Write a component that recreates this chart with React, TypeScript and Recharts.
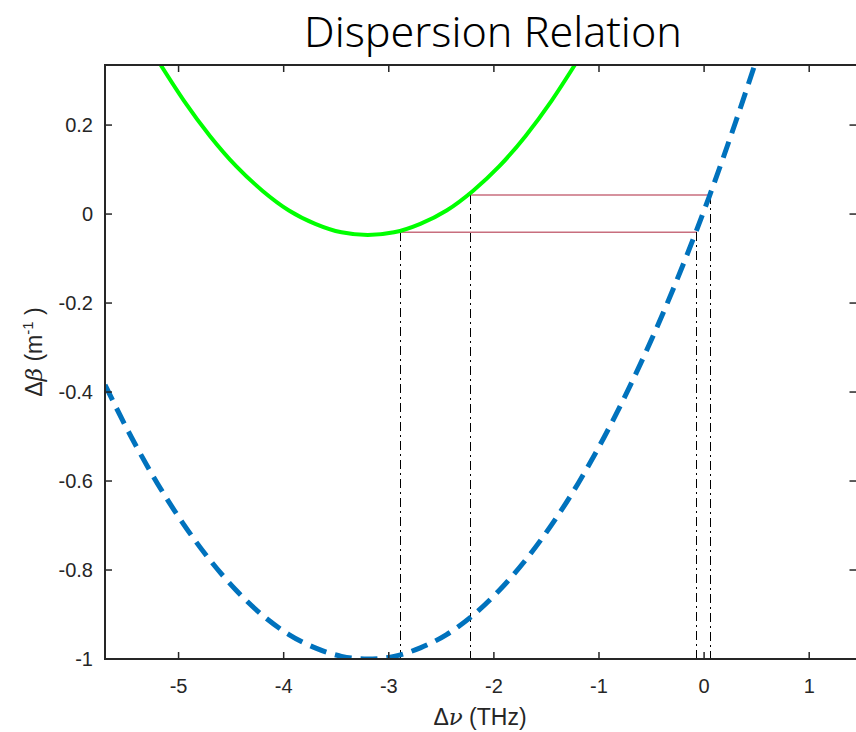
import React from 'react';
import { LineChart, Line, XAxis, YAxis, ReferenceLine } from 'recharts';

// frequency offset (THz) and propagation-constant mismatch (1/m)
const blueX = [-5.7, -5.45, -5.2, -4.95, -4.7, -4.45, -4.2, -3.95, -3.7, -3.45, -3.2, -2.95, -2.7, -2.45, -2.2, -1.95, -1.7, -1.45, -1.2, -0.95, -0.7, -0.45, -0.2, 0.05, 0.3, 0.48];
const blueY = [-0.384, -0.501, -0.606, -0.698, -0.778, -0.846, -0.902, -0.945, -0.975, -0.994, -1.0, -0.994, -0.975, -0.945, -0.902, -0.846, -0.778, -0.698, -0.606, -0.501, -0.384, -0.255, -0.114, 0.04, 0.207, 0.334];

const greenX = [-5.17, -4.95, -4.7, -4.45, -4.2, -3.95, -3.7, -3.45, -3.2, -2.95, -2.7, -2.45, -2.2, -1.95, -1.7, -1.45, -1.23];
const greenY = [0.335, 0.255, 0.175, 0.107, 0.052, 0.008, -0.022, -0.041, -0.047, -0.041, -0.022, 0.008, 0.052, 0.107, 0.175, 0.255, 0.335];

// phase-matching levels: [y, x on green curve, x on blue curve]
const matchLevels = [
  [0.043, -2.218, 0.059],
  [-0.041, -2.884, -0.068],
];

const xTicks = [-5, -4, -3, -2, -1, 0, 1];
const yTicks = [-1, -0.8, -0.6, -0.4, -0.2, 0, 0.2];
const xDomain = [-5.7, 1.45];
const yDomain = [-1, 0.335];

const blueData = blueX.map((x, i) => ({ x, y: blueY[i] }));
const greenData = greenX.map((x, i) => ({ x, y: greenY[i] }));

// plot box in page pixels
const PLOT_TOP = 65;
const PLOT_BOTTOM = 659;
const PLOT_LEFT = 105;
const PLOT_RIGHT = 856.5;
const TICK_LEN = 7;
const AXIS_COLOR = '#262626';
const FONT = '"Liberation Sans", Arial, sans-serif';
const GREEK = '"DejaVu Serif", serif';

const XTick = (props: any) => {
  const { x, payload } = props;
  return (
    <g>
      <line x1={x} x2={x} y1={PLOT_BOTTOM} y2={PLOT_BOTTOM - TICK_LEN} stroke={AXIS_COLOR} strokeWidth={1.5} />
      <line x1={x} x2={x} y1={PLOT_TOP} y2={PLOT_TOP + TICK_LEN} stroke={AXIS_COLOR} strokeWidth={1.5} />
      <text x={x} y={686} textAnchor="middle" dominantBaseline="central" fill={AXIS_COLOR} fontSize={20} fontFamily={FONT}>
        {String(payload.value)}
      </text>
    </g>
  );
};

const YTick = (props: any) => {
  const { y, payload } = props;
  return (
    <g>
      <line x1={PLOT_LEFT} x2={PLOT_LEFT + TICK_LEN} y1={y} y2={y} stroke={AXIS_COLOR} strokeWidth={1.5} />
      <line x1={PLOT_RIGHT} x2={PLOT_RIGHT - TICK_LEN} y1={y} y2={y} stroke={AXIS_COLOR} strokeWidth={1.5} />
      <text x={93} y={y} textAnchor="end" dominantBaseline="central" fill={AXIS_COLOR} fontSize={20} fontFamily={FONT}>
        {String(payload.value)}
      </text>
    </g>
  );
};

const App: React.FC = () => {
  return (
    <div style={{ position: 'absolute', left: 0, top: 0, width: 856, height: 732, overflow: 'hidden', background: '#fff' }}>
      <LineChart
        width={870}
        height={732}
        margin={{ top: PLOT_TOP, right: 870 - PLOT_RIGHT, bottom: 33, left: 0 }}
      >
        <XAxis
          dataKey="x"
          type="number"
          domain={xDomain}
          ticks={xTicks}
          allowDataOverflow
          height={40}
          tickLine={false}
          tick={<XTick />}
          axisLine={false}
        />
        <YAxis
          type="number"
          domain={yDomain}
          ticks={yTicks}
          allowDataOverflow
          width={PLOT_LEFT}
          tickLine={false}
          tick={<YTick />}
          axisLine={false}
        />
        {matchLevels.map(([y, x1, x2], i) => (
          <ReferenceLine
            key={`h-${i}`}
            segment={[{ x: x1, y }, { x: x2, y }]}
            stroke="#c86e7e"
            strokeWidth={1.5}
          />
        ))}
        {matchLevels.flatMap(([y, x1, x2], i) =>
          [x1, x2].map((x, j) => (
            <ReferenceLine
              key={`v-${i}-${j}`}
              segment={[{ x, y }, { x, y: yDomain[0] }]}
              stroke="#000"
              strokeWidth={1}
              strokeDasharray="9 4 2 4"
              shapeRendering="crispEdges"
            />
          ))
        )}
        <Line
          data={greenData}
          dataKey="y"
          type="monotone"
          stroke="#00ff00"
          strokeWidth={4}
          dot={false}
          isAnimationActive={false}
        />
        <Line
          data={blueData}
          dataKey="y"
          type="monotone"
          stroke="#0072bd"
          strokeWidth={5}
          strokeDasharray="17 9"
          dot={false}
          isAnimationActive={false}
        />
      </LineChart>
      <svg width={856} height={732} style={{ position: 'absolute', left: 0, top: 0, pointerEvents: 'none' }}>
        {/* axes box */}
        <path
          d={`M${PLOT_RIGHT},${PLOT_TOP} H${PLOT_LEFT} V${PLOT_BOTTOM} H${PLOT_RIGHT}`}
          fill="none"
          stroke={AXIS_COLOR}
          strokeWidth={2}
        />
        <text x={493} y={47} textAnchor="middle" fontSize={43} fontWeight={300} fontFamily='"Noto Sans", sans-serif' fill="#000">
          Dispersion Relation
        </text>
        <text x={480} y={725} textAnchor="middle" fontSize={23} fontFamily={FONT} fill={AXIS_COLOR}>
          Δ<tspan fontFamily={GREEK} fontStyle="italic">ν</tspan> (THz)
        </text>
        <text
          transform="translate(42,352) rotate(-90)"
          textAnchor="middle"
          fontSize={23}
          fontFamily={FONT}
          fill={AXIS_COLOR}
        >
          Δ<tspan fontFamily={GREEK} fontStyle="italic">β</tspan> (m<tspan dy={-9} fontSize={15}>-1</tspan><tspan dy={9}> )</tspan>
        </text>
      </svg>
    </div>
  );
};

export default App;
